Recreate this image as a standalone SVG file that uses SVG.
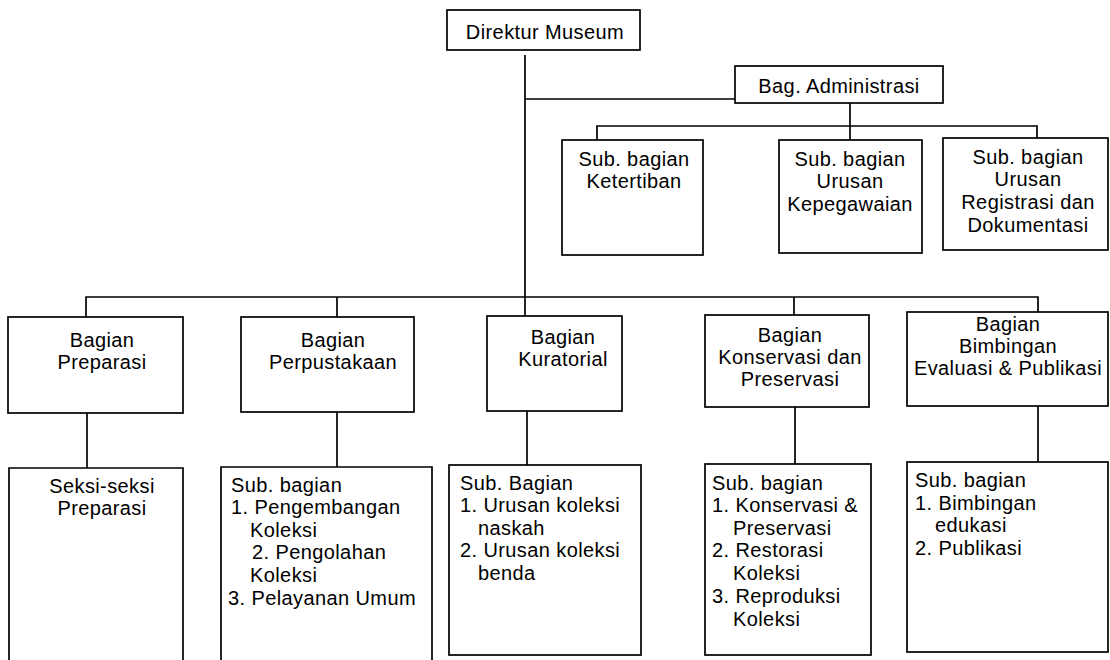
<svg xmlns="http://www.w3.org/2000/svg" width="1110" height="660" viewBox="0 0 1110 660">
  <style>
    .box { fill: #fff; stroke: #000; stroke-width: 1.7; }
    .line { fill: none; stroke: #000; stroke-width: 1.7; }
    text { font-family: "Liberation Sans", Arial, sans-serif; font-size: 20px; fill: #000; letter-spacing: 0.4px; }
    .c { text-anchor: middle; }
  </style>
  <rect width="1110" height="660" fill="#fff"/>

  <!-- connectors -->
  <g id="connectors">
    <!-- director trunk -->
    <path class="line" d="M525 55 V318"/>
    <path class="line" d="M525 99 H735"/>
    <!-- administration branch -->
    <path class="line" d="M850 103 V126"/>
    <path class="line" d="M597 148 V126 H1037 V148"/>
    <path class="line" d="M850 126 V150"/>
    <!-- department bar -->
    <path class="line" d="M86 317 V297 H1038 V312"/>
    <path class="line" d="M337 297 V317"/>
    <path class="line" d="M794 297 V315"/>
    <!-- department to sub units -->
    <path class="line" d="M87 413 V468"/>
    <path class="line" d="M337 412 V467"/>
    <path class="line" d="M527 411 V465"/>
    <path class="line" d="M795 407 V464"/>
    <path class="line" d="M1038 406 V462"/>
  </g>

  <g id="direktur">
    <rect class="box" x="447" y="10" width="193" height="40"/>
    <text class="c" x="545" y="39">Direktur Museum</text>
  </g>

  <g id="administrasi">
    <rect class="box" x="735" y="66" width="208" height="37"/>
    <text class="c" x="839" y="93">Bag. Administrasi</text>
  </g>

  <g id="ketertiban">
    <rect class="box" x="562" y="140" width="141" height="115"/>
    <text class="c" x="634" y="166">Sub. bagian</text>
    <text class="c" x="634" y="188">Ketertiban</text>
  </g>

  <g id="kepegawaian">
    <rect class="box" x="779" y="140" width="143" height="113"/>
    <text class="c" x="850" y="166">Sub. bagian</text>
    <text class="c" x="850" y="188">Urusan</text>
    <text class="c" x="850" y="211">Kepegawaian</text>
  </g>

  <g id="registrasi">
    <rect class="box" x="943" y="138" width="165" height="112"/>
    <text class="c" x="1028" y="164">Sub. bagian</text>
    <text class="c" x="1028" y="186">Urusan</text>
    <text class="c" x="1028" y="209">Registrasi dan</text>
    <text class="c" x="1028" y="232">Dokumentasi</text>
  </g>

  <g id="preparasi">
    <rect class="box" x="8" y="317" width="175" height="96"/>
    <text class="c" x="102" y="347">Bagian</text>
    <text class="c" x="102" y="369">Preparasi</text>
  </g>

  <g id="perpustakaan">
    <rect class="box" x="241" y="317" width="173" height="95"/>
    <text class="c" x="333" y="347">Bagian</text>
    <text class="c" x="333" y="369">Perpustakaan</text>
  </g>

  <g id="kuratorial">
    <rect class="box" x="487" y="316" width="135" height="95"/>
    <text class="c" x="563" y="344">Bagian</text>
    <text class="c" x="563" y="366">Kuratorial</text>
  </g>

  <g id="konservasi">
    <rect class="box" x="705" y="315" width="164" height="92"/>
    <text class="c" x="790" y="342">Bagian</text>
    <text class="c" x="790" y="364">Konservasi dan</text>
    <text class="c" x="790" y="386">Preservasi</text>
  </g>

  <g id="bimbingan">
    <rect class="box" x="907" y="312" width="201" height="94"/>
    <text class="c" x="1008" y="331">Bagian</text>
    <text class="c" x="1008" y="353">Bimbingan</text>
    <text class="c" x="1008" y="375">Evaluasi &amp; Publikasi</text>
  </g>

  <g id="seksi-preparasi">
    <path class="line" d="M9 662 V468 H183 V662"/>
    <text class="c" x="102" y="493">Seksi-seksi</text>
    <text class="c" x="102" y="515">Preparasi</text>
  </g>

  <g id="sub-perpustakaan">
    <path class="line" d="M221 662 V467 H432 V662"/>
    <text x="231" y="492">Sub. bagian</text>
    <text x="231" y="514">1. Pengembangan</text>
    <text x="250" y="537">Koleksi</text>
    <text x="252" y="559">2. Pengolahan</text>
    <text x="250" y="582">Koleksi</text>
    <text x="228" y="605">3. Pelayanan Umum</text>
  </g>

  <g id="sub-kuratorial">
    <rect class="box" x="449" y="465" width="192" height="190"/>
    <text x="460" y="490">Sub. Bagian</text>
    <text x="460" y="512">1. Urusan koleksi</text>
    <text x="478" y="535">naskah</text>
    <text x="460" y="557">2. Urusan koleksi</text>
    <text x="478" y="580">benda</text>
  </g>

  <g id="sub-konservasi">
    <rect class="box" x="705" y="464" width="166" height="191"/>
    <text x="712" y="490">Sub. bagian</text>
    <text x="712" y="512">1. Konservasi &amp;</text>
    <text x="733" y="535">Preservasi</text>
    <text x="712" y="557">2. Restorasi</text>
    <text x="733" y="580">Koleksi</text>
    <text x="712" y="603">3. Reproduksi</text>
    <text x="733" y="626">Koleksi</text>
  </g>

  <g id="sub-bimbingan">
    <rect class="box" x="907" y="462" width="201" height="190"/>
    <text x="915" y="487">Sub. bagian</text>
    <text x="915" y="510">1. Bimbingan</text>
    <text x="935" y="532">edukasi</text>
    <text x="915" y="555">2. Publikasi</text>
  </g>
</svg>
